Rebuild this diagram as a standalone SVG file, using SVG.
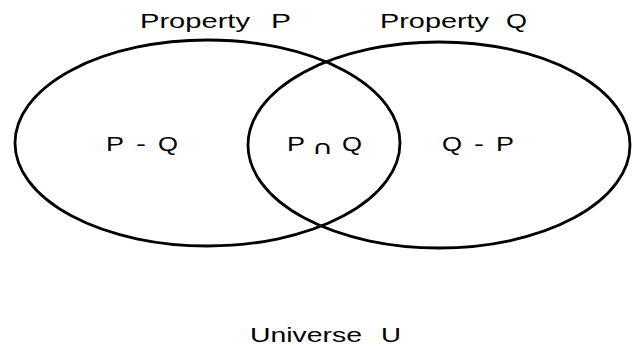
<svg xmlns="http://www.w3.org/2000/svg" width="632" height="346" viewBox="0 0 632 346">
<style>
.set{fill:none;stroke:#000;stroke-width:2.8}
.t{font-family:"Liberation Sans",Arial,sans-serif;font-size:20px;fill:#000}
.sym{font-family:"DejaVu Sans",sans-serif;font-size:19px;fill:#000}
</style>
<rect width="632" height="346" fill="#fff"/>
<g id="setP">
<ellipse class="set" cx="207.5" cy="143" rx="192.5" ry="103"/>
<text class="t" x="140" y="28" textLength="110" lengthAdjust="spacingAndGlyphs">Property</text>
<text class="t" x="271" y="28" textLength="20" lengthAdjust="spacingAndGlyphs">P</text>
</g>
<g id="setQ">
<ellipse class="set" cx="439" cy="145" rx="191" ry="103"/>
<text class="t" x="380" y="28" textLength="109" lengthAdjust="spacingAndGlyphs">Property</text>
<text class="t" x="506" y="28" textLength="21" lengthAdjust="spacingAndGlyphs">Q</text>
</g>
<g id="regionPminusQ">
<text class="t" x="106" y="150.5" textLength="18" lengthAdjust="spacingAndGlyphs">P</text>
<text class="t" x="136" y="150.5" textLength="10" lengthAdjust="spacingAndGlyphs">-</text>
<text class="t" x="158" y="150.5" textLength="20" lengthAdjust="spacingAndGlyphs">Q</text>
</g>
<g id="regionPandQ">
<text class="t" x="287" y="150.5" textLength="18" lengthAdjust="spacingAndGlyphs">P</text>
<text class="sym" x="312" y="154" textLength="21" lengthAdjust="spacingAndGlyphs">∩</text>
<text class="t" x="342" y="150.5" textLength="20" lengthAdjust="spacingAndGlyphs">Q</text>
</g>
<g id="regionQminusP">
<text class="t" x="442" y="150.5" textLength="20" lengthAdjust="spacingAndGlyphs">Q</text>
<text class="t" x="474" y="150.5" textLength="10" lengthAdjust="spacingAndGlyphs">-</text>
<text class="t" x="496" y="150.5" textLength="18" lengthAdjust="spacingAndGlyphs">P</text>
</g>
<g id="universe">
<text class="t" x="250" y="342" textLength="112" lengthAdjust="spacingAndGlyphs">Universe</text>
<text class="t" x="381" y="342" textLength="20" lengthAdjust="spacingAndGlyphs">U</text>
</g>
<g id="connectors"></g>
</svg>
